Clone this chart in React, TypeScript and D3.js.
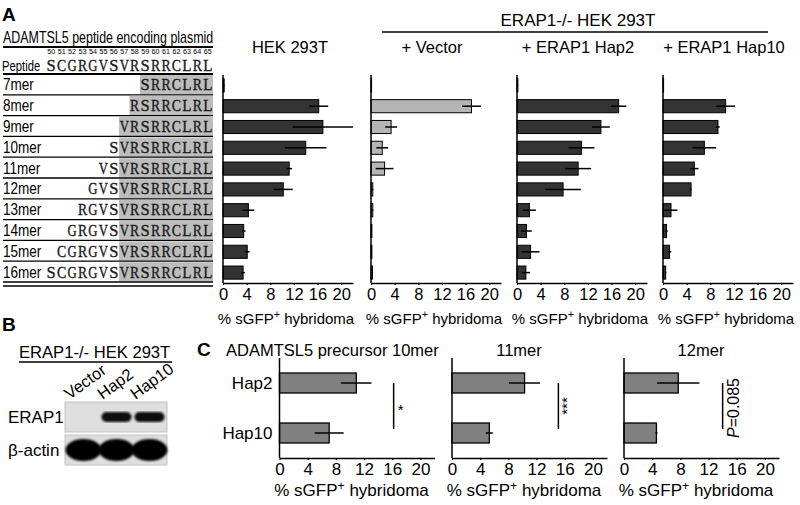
import React, { useEffect, useRef } from 'react';
import * as d3 from 'd3';

const W = 800;
const H = 505;
const FONT = "'Liberation Sans', Arial, sans-serif";
const SERIF = "'Liberation Serif', 'Times New Roman', serif";

// ---- panel A data ----
const peptideLengths = ['7mer', '8mer', '9mer', '10mer', '11mer', '12mer', '13mer', '14mer', '15mer', '16mer'];
const residueNumbers = [50, 51, 52, 53, 54, 55, 56, 57, 58, 59, 60, 61, 62, 63, 64, 65];
const precursorSequence = ['S', 'C', 'G', 'R', 'G', 'V', 'S', 'V', 'R', 'S', 'R', 'R', 'C', 'L', 'R', 'L'];
const xTicks = [0, 4, 8, 12, 16, 20];

const hekMeans = [0.2, 16.2, 16.9, 14.0, 11.2, 10.2, 4.3, 3.5, 4.1, 3.4];
const hekErrs = [0.05, 1.6, 5.1, 3.5, 0.5, 1.6, 1.0, 0.3, 0.4, 0.3];
const vectorMeans = [0.1, 17.0, 3.4, 1.9, 2.3, 0.3, 0.3, 0.15, 0.15, 0.25];
const vectorErrs = [0, 1.6, 1.0, 1.0, 1.5, 0.1, 0.1, 0, 0, 0.1];
const hap2Means = [0.15, 17.2, 14.2, 10.9, 10.35, 7.8, 2.1, 1.6, 2.3, 1.5];
const hap2Errs = [0.05, 1.3, 1.5, 2.2, 2.2, 3.0, 1.1, 0.9, 1.5, 0.7];
const hap10Means = [0.1, 10.6, 9.3, 7.0, 5.3, 4.75, 1.35, 0.6, 1.1, 0.45];
const hap10Errs = [0, 1.6, 0.3, 2.0, 0.7, 0.1, 1.1, 0.2, 0.3, 0.1];

// ---- panel B data ----
const blotLanes = ['Vector', 'Hap2', 'Hap10'];
const erap1Bands = [0, 1, 1];
const actinBands = [1, 1, 1];

// ---- panel C data ----
const haplotypes = ['Hap2', 'Hap10'];
const precursorTitles = ['ADAMTSL5 precursor 10mer', '11mer', '12mer'];
const c10merMeans = [10.9, 7.05];
const c10merErrs = [2.15, 2.05];
const c11merMeans = [10.3, 5.3];
const c11merErrs = [2.2, 0.5];
const c12merMeans = [7.7, 4.6];
const c12merErrs = [3.0, 0.15];
const sigLabels = ['*', '***', 'P=0.085'];
const sigPositions = [16.2, 15.1, 14.0];

const addAxisLabel = (g, x, y, size) => {
  const t = g.append('text')
    .attr('x', x).attr('y', y)
    .attr('text-anchor', 'middle')
    .attr('font-family', FONT)
    .attr('font-size', size)
    .text('% sGFP');
  t.append('tspan').attr('dy', -6).attr('font-size', size * 0.72).text('+');
  t.append('tspan').attr('dy', 6).text(' hybridoma');
};

const styleAxis = (axisG, size) => {
  axisG.attr('font-family', FONT).attr('font-size', size);
  axisG.select('.domain').attr('stroke', '#000').attr('stroke-width', 1.5);
  axisG.selectAll('.tick line').attr('stroke', '#000').attr('stroke-width', 1.2);
  axisG.selectAll('.tick text').attr('fill', '#000');
};

// one residue letter, squeezed into its fixed column like a monospaced serif face
const residue = (g, x, y, aa) => g.append('text')
  .attr('x', x - 4.6).attr('y', y)
  .attr('font-family', SERIF).attr('font-size', 16)
  .attr('textLength', 9.2).attr('lengthAdjust', 'spacingAndGlyphs')
  .attr('fill', '#1a1a1a').attr('stroke', '#1a1a1a').attr('stroke-width', 0.35)
  .text(aa);

export default function App() {
  const svgRef = useRef(null);

  useEffect(() => {
    const svg = d3.select(svgRef.current);
    svg.selectAll('*').remove();
    svg.append('rect').attr('width', W).attr('height', H).attr('fill', '#fff');

    const defs = svg.append('defs');
    defs.append('filter').attr('id', 'blur')
      .append('feGaussianBlur').attr('stdDeviation', 0.9);

    // Panel letters
    const letter = (t, x, y) => svg.append('text')
      .attr('x', x).attr('y', y)
      .attr('font-family', FONT).attr('font-weight', 'bold').attr('font-size', 19)
      .text(t);
    letter('A', 2, 21);
    letter('B', 2, 331);
    letter('C', 197, 356);

    // ---------- Panel A: peptide table ----------
    const table = svg.append('g');
    // narrow face look: squeeze horizontally
    table.append('text')
      .attr('transform', 'translate(3,43) scale(0.778,1)')
      .attr('font-family', FONT).attr('font-size', 16)
      .text('ADAMTSL5 peptide encoding plasmid');
    table.append('line').attr('x1', 3).attr('x2', 213).attr('y1', 47).attr('y2', 47)
      .attr('stroke', '#000').attr('stroke-width', 2);

    const col = d3.scaleBand().domain(residueNumbers.map(String)).range([46, 213]);
    const colMid = i => col(String(residueNumbers[i])) + col.bandwidth() / 2;
    table.selectAll('text.num').data(residueNumbers).join('text')
      .attr('class', 'num')
      .attr('x', d => col(String(d)) + col.bandwidth() / 2 - 4)
      .attr('y', 54)
      .attr('font-family', FONT).attr('font-size', 7)
      .attr('textLength', 8).attr('lengthAdjust', 'spacingAndGlyphs')
      .text(d => d);

    table.append('text')
      .attr('transform', 'translate(2,71) scale(0.75,1)')
      .attr('font-family', FONT).attr('font-size', 15)
      .text('Peptide');
    precursorSequence.forEach((aa, i) => residue(table, colMid(i), 71, aa));
    table.append('line').attr('x1', 3).attr('x2', 213).attr('y1', 74).attr('y2', 74)
      .attr('stroke', '#000').attr('stroke-width', 2);

    const row = d3.scaleBand().domain(peptideLengths).range([74, 282]);
    peptideLengths.forEach((p, i) => {
      const len = parseInt(p, 10);
      const start = precursorSequence.length - len;
      const grayStart = Math.max(start, 7);
      const y0 = row(p);
      const gx = col(String(residueNumbers[grayStart]));
      table.append('rect')
        .attr('x', gx).attr('y', y0 + 1)
        .attr('width', 213 - gx).attr('height', row.bandwidth() - 1.5)
        .attr('fill', '#bdbdbd');
      table.append('text')
        .attr('transform', `translate(3,${y0 + row.bandwidth() / 2 + 6}) scale(0.82,1)`)
        .attr('font-family', FONT).attr('font-size', 16.5)
        .text(p);
      for (let k = start; k < precursorSequence.length; k++) {
        residue(table, colMid(k), y0 + row.bandwidth() / 2 + 6, precursorSequence[k]);
      }
      if (i < peptideLengths.length - 1) {
        table.append('line').attr('x1', 3).attr('x2', 213)
          .attr('y1', y0 + row.bandwidth()).attr('y2', y0 + row.bandwidth())
          .attr('stroke', '#000').attr('stroke-width', 1.3);
      }
    });
    [282, 286].forEach(yy => {
      table.append('line').attr('x1', 3).attr('x2', 213).attr('y1', yy).attr('y2', yy)
        .attr('stroke', '#000').attr('stroke-width', 1.5);
    });

    // ---------- Panel A: bar charts ----------
    const yA = d3.scaleBand().domain(peptideLengths).range([75, 283])
      .paddingInner(0.37).paddingOuter(0.185);
    const aCharts = [
      { title: 'HEK 293T', means: hekMeans, errs: hekErrs, fill: '#333333', left: 223 },
      { title: '+ Vector', means: vectorMeans, errs: vectorErrs, fill: '#b5b5b5', left: 371 },
      { title: '+ ERAP1 Hap2', means: hap2Means, errs: hap2Errs, fill: '#333333', left: 517 },
      { title: '+ ERAP1 Hap10', means: hap10Means, errs: hap10Errs, fill: '#333333', left: 663 },
    ];
    aCharts.forEach((c, ci) => {
      const x = d3.scaleLinear().domain([0, 22]).range([c.left, c.left + 130]);
      const g = svg.append('g');
      g.selectAll('rect').data(peptideLengths).join('rect')
        .attr('x', x(0))
        .attr('y', d => yA(d))
        .attr('width', (d, i) => Math.max(0.5, x(c.means[i]) - x(0)))
        .attr('height', yA.bandwidth())
        .attr('fill', c.fill)
        .attr('stroke', '#000').attr('stroke-width', 1);
      g.selectAll('line.err').data(peptideLengths).join('line')
        .attr('class', 'err')
        .attr('x1', (d, i) => x(Math.max(0, c.means[i] - c.errs[i])))
        .attr('x2', (d, i) => x(c.means[i] + c.errs[i]))
        .attr('y1', d => yA(d) + yA.bandwidth() / 2)
        .attr('y2', d => yA(d) + yA.bandwidth() / 2)
        .attr('stroke', '#000').attr('stroke-width', 1.5);
      g.append('line').attr('x1', x(0)).attr('x2', x(0)).attr('y1', 75).attr('y2', 283)
        .attr('stroke', '#000').attr('stroke-width', 1.5);
      const ax = g.append('g').attr('transform', 'translate(0,283)')
        .call(d3.axisBottom(x).tickValues(xTicks).tickSize(2).tickSizeOuter(0));
      styleAxis(ax, 16.5);
      addAxisLabel(g, x(0) + 63, 324, 15);
      g.append('text')
        .attr('x', x(11) + (ci === 0 ? 2 : -4)).attr('y', 53)
        .attr('text-anchor', 'middle')
        .attr('font-family', FONT).attr('font-size', 16.5)
        .text(c.title);
    });
    svg.append('text')
      .attr('x', 578).attr('y', 26)
      .attr('text-anchor', 'middle')
      .attr('font-family', FONT).attr('font-size', 17)
      .text('ERAP1-/- HEK 293T');
    svg.append('line').attr('x1', 382).attr('x2', 768).attr('y1', 32).attr('y2', 32)
      .attr('stroke', '#000').attr('stroke-width', 1.5);

    // ---------- Panel B: western blot ----------
    const b = svg.append('g');
    b.append('text')
      .attr('x', 19).attr('y', 358)
      .attr('font-family', FONT).attr('font-size', 16.6)
      .text('ERAP1-/- HEK 293T');
    b.append('line').attr('x1', 19).attr('x2', 172).attr('y1', 362).attr('y2', 362)
      .attr('stroke', '#000').attr('stroke-width', 1.3);
    const lane = d3.scaleBand().domain(blotLanes).range([67, 166]);
    blotLanes.forEach(l => {
      const cx = lane(l) + lane.bandwidth() / 2;
      b.append('text')
        .attr('transform', `translate(${cx - 14},400) rotate(-36)`)
        .attr('font-family', FONT).attr('font-size', 16.5)
        .text(l);
    });
    const blotRows = [
      { label: 'ERAP1', y: 402, levels: erap1Bands, kind: 'thin' },
      { label: 'β-actin', y: 435, levels: actinBands, kind: 'thick' },
    ];
    blotRows.forEach(r => {
      b.append('rect').attr('x', 65).attr('y', r.y).attr('width', 102).attr('height', 30)
        .attr('fill', '#dedede').attr('stroke', '#c4c4c4').attr('stroke-width', 1);
      b.append('text')
        .attr('x', 8).attr('y', r.y + 21)
        .attr('font-family', FONT).attr('font-size', 17)
        .text(r.label);
      blotLanes.forEach((l, i) => {
        if (!r.levels[i]) return;
        const cx = lane(l) + lane.bandwidth() / 2;
        if (r.kind === 'thin') {
          b.append('rect').attr('x', cx - 15).attr('y', r.y + 10).attr('width', 30).attr('height', 10)
            .attr('rx', 5).attr('fill', '#0a0a0a').attr('filter', 'url(#blur)');
        } else {
          b.append('ellipse').attr('cx', cx).attr('cy', r.y + 15).attr('rx', 18).attr('ry', 11)
            .attr('fill', '#050505').attr('filter', 'url(#blur)');
        }
      });
    });

    // ---------- Panel C ----------
    const yC = d3.scaleBand().domain(haplotypes).range([358, 458]).paddingInner(0.6).paddingOuter(0.3);
    const cCharts = [
      { means: c10merMeans, errs: c10merErrs, left: 279.5, titleX: 226, anchor: 'start' },
      { means: c11merMeans, errs: c11merErrs, left: 452, titleX: 519, anchor: 'middle' },
      { means: c12merMeans, errs: c12merErrs, left: 624, titleX: 701, anchor: 'middle' },
    ];
    cCharts.forEach((c, ci) => {
      const x = d3.scaleLinear().domain([0, 22]).range([c.left, c.left + 155]);
      const g = svg.append('g');
      g.selectAll('rect').data(haplotypes).join('rect')
        .attr('x', x(0)).attr('y', d => yC(d))
        .attr('width', (d, i) => x(c.means[i]) - x(0))
        .attr('height', yC.bandwidth())
        .attr('fill', '#808080')
        .attr('stroke', '#000').attr('stroke-width', 1.3);
      g.selectAll('line.err').data(haplotypes).join('line')
        .attr('class', 'err')
        .attr('x1', (d, i) => x(c.means[i] - c.errs[i]))
        .attr('x2', (d, i) => x(c.means[i] + c.errs[i]))
        .attr('y1', d => yC(d) + yC.bandwidth() / 2)
        .attr('y2', d => yC(d) + yC.bandwidth() / 2)
        .attr('stroke', '#000').attr('stroke-width', 1.5);
      g.append('line').attr('x1', x(0)).attr('x2', x(0)).attr('y1', 358).attr('y2', 458)
        .attr('stroke', '#000').attr('stroke-width', 1.5);
      const ax = g.append('g').attr('transform', 'translate(0,458)')
        .call(d3.axisBottom(x).tickValues(xTicks).tickSize(2).tickSizeOuter(0));
      styleAxis(ax, 17);
      addAxisLabel(g, x(0) + 72, 496, 17);
      g.append('text')
        .attr('x', c.titleX).attr('y', 356)
        .attr('text-anchor', c.anchor)
        .attr('font-family', FONT).attr('font-size', 16.5)
        .text(precursorTitles[ci]);
      if (ci === 0) {
        haplotypes.forEach(h => {
          g.append('text')
            .attr('x', x(0) - 7).attr('y', yC(h) + yC.bandwidth() / 2 + 6)
            .attr('text-anchor', 'end')
            .attr('font-family', FONT).attr('font-size', 17)
            .text(h);
        });
      }
      // significance bracket
      const sx = x(sigPositions[ci]);
      const yTop = yC('Hap2') + yC.bandwidth() / 2;
      const yBot = yC('Hap10') + yC.bandwidth() / 2 - 4;
      g.append('line').attr('x1', sx).attr('x2', sx).attr('y1', yTop).attr('y2', yBot)
        .attr('stroke', '#000').attr('stroke-width', 1.5);
      const label = sigLabels[ci];
      if (label === '*') {
        g.append('text').attr('x', sx + 4).attr('y', (yTop + yBot) / 2 + 9)
          .attr('font-family', FONT).attr('font-size', 15).text(label);
      } else if (label.startsWith('P')) {
        const t = g.append('text')
          .attr('transform', `translate(${sx + 16},${(yTop + yBot) / 2 + 2}) rotate(-90)`)
          .attr('text-anchor', 'middle')
          .attr('font-family', FONT).attr('font-size', 16);
        t.append('tspan').attr('font-style', 'italic').text('P');
        t.append('tspan').text(label.slice(1));
      } else {
        g.append('text')
          .attr('transform', `translate(${sx + 14},${(yTop + yBot) / 2}) rotate(-90)`)
          .attr('text-anchor', 'middle')
          .attr('font-family', FONT).attr('font-size', 15)
          .text(label);
      }
    });
  }, []);

  return (
    <svg
      ref={svgRef}
      width={W}
      height={H}
      style={{ position: 'absolute', left: 0, top: 0, display: 'block' }}
    />
  );
}
